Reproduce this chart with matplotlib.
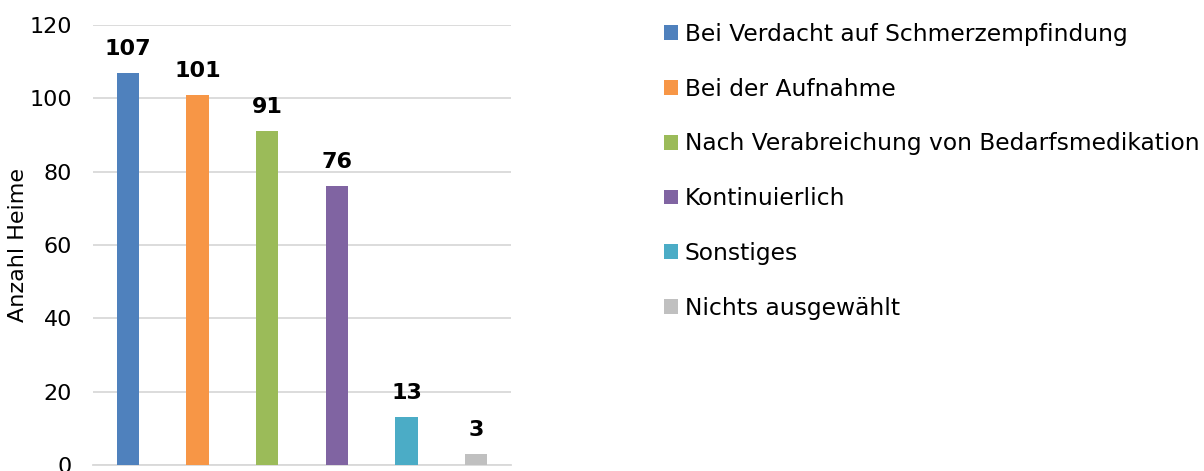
import matplotlib.pyplot as plt

categories = ['Bei Verdacht auf Schmerzempfindung', 'Bei der Aufnahme',
              'Nach Verabreichung von Bedarfsmedikation', 'Kontinuierlich',
              'Sonstiges', 'Nichts ausgewählt']
values = [107, 101, 91, 76, 13, 3]
colors = ['#4F81BD', '#F79646', '#9BBB59', '#8064A2', '#4BACC6', '#C0C0C0']
yticks = [0, 20, 40, 60, 80, 100, 120]

plt.rcParams['font.family'] = ['DejaVu Sans']

fig = plt.figure(figsize=(12.04, 4.71), dpi=100)
ax = fig.add_axes([93 / 1204, 6 / 471, 418 / 1204, 440 / 471])

x = range(len(values))
bars = ax.bar(x, values, width=0.32, color=colors, label=categories, zorder=3)

for xi, v in zip(x, values):
    ax.annotate(str(v), (xi, v), xytext=(0, 10), textcoords='offset points',
                ha='center', va='bottom', fontsize=16, fontweight='bold')

ax.set_xlim(-0.5, 5.5)
ax.set_ylim(0, 120)
ax.set_yticks(yticks)
ax.set_xticks([])
ax.tick_params(axis='y', length=0, labelsize=16, pad=15)
ax.grid(axis='y', color='#D9D9D9', linewidth=1.3, zorder=0)
for s in ['top', 'right', 'left']:
    ax.spines[s].set_visible(False)
ax.spines['bottom'].set_color('#D9D9D9')
ax.spines['bottom'].set_linewidth(1.3)
ax.set_ylabel('Anzahl Heime', fontsize=16)
ax.yaxis.set_label_coords(-0.155, 0.5)

fig.legend(handles=list(bars), labels=categories, loc='upper left',
           bbox_to_anchor=(643 / 1204, 1 - 2 / 471), frameon=False,
           fontsize=16.8, handlelength=0.6, handleheight=0.6,
           handletextpad=0.3, labelspacing=1.36)

fig.savefig('out.png', dpi=100)
